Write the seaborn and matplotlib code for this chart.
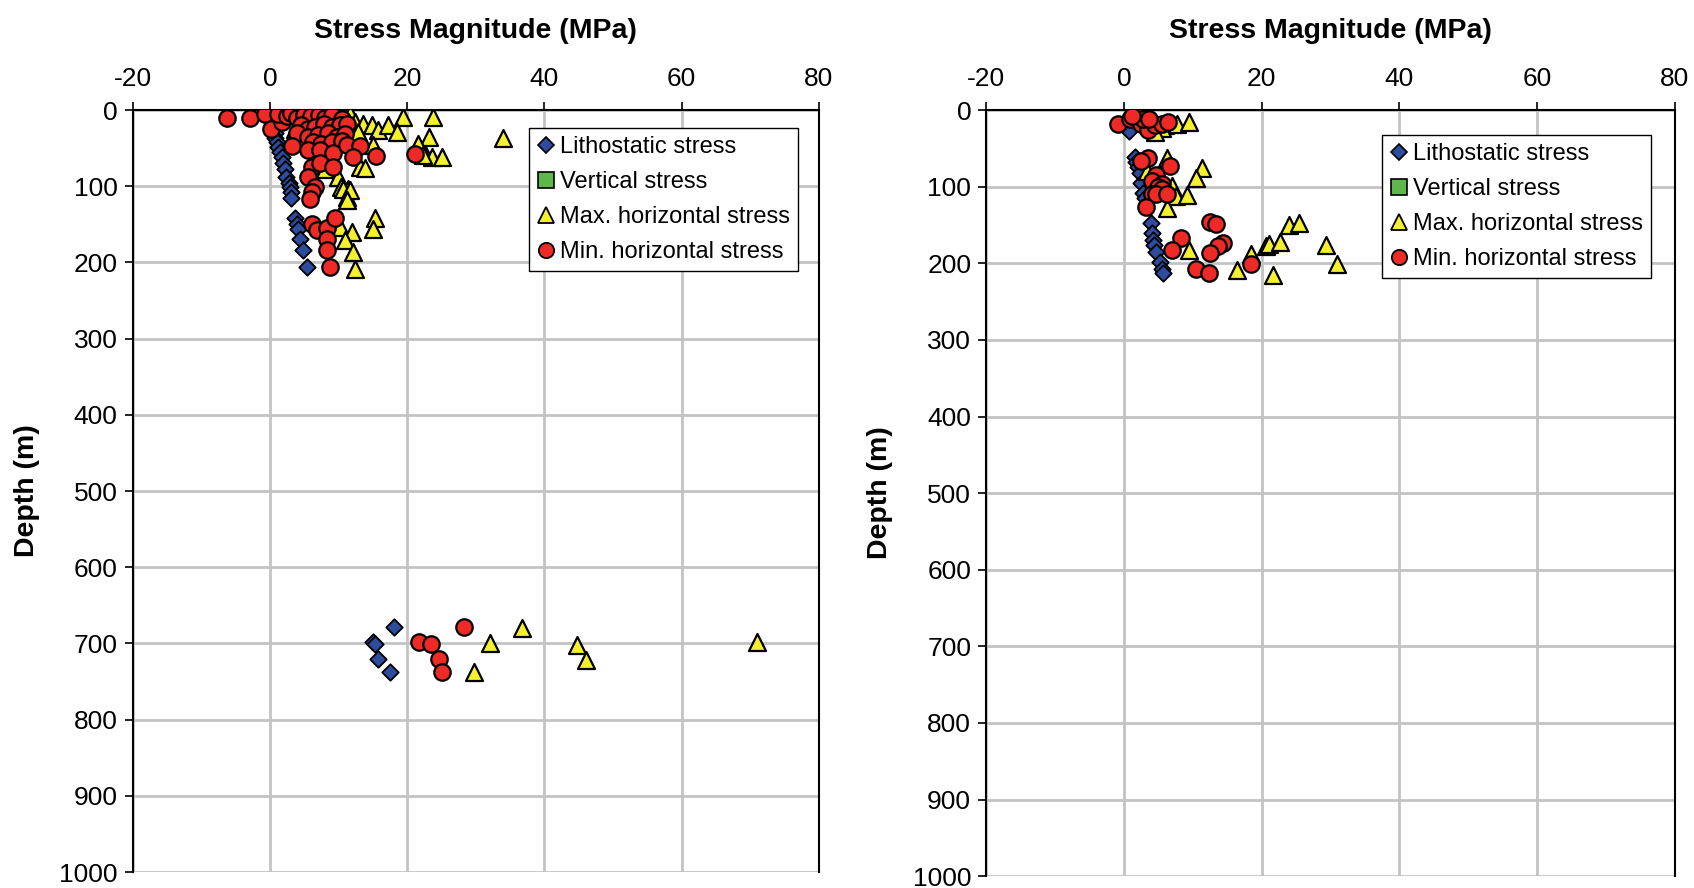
import matplotlib
matplotlib.use("Agg")
import matplotlib.pyplot as plt
from matplotlib.lines import Line2D
import seaborn as sns

sns.set_theme(style="white")
plt.rcParams['font.family'] = ['Liberation Sans', 'DejaVu Sans']
plt.rcParams['axes.unicode_minus'] = False
plt.rcParams['text.color'] = 'black'
plt.rcParams['axes.labelcolor'] = 'black'
plt.rcParams['xtick.color'] = 'black'
plt.rcParams['ytick.color'] = 'black'

# ---- Borehole A (left panel): (stress MPa, depth m) ----
a_litho_x = [0.3, 0.5, 0.7, 0.7, 1.0, 1.2, 1.4, 1.7, 1.9, 2.2, 2.4, 2.7, 2.9, 3.0, 3.1,
             3.6, 3.9, 4.1, 4.4, 4.75, 5.4, 15.0, 15.3, 15.8, 17.5, 18.0]
a_litho_y = [12, 20, 30, 37, 42, 48, 55, 61, 70, 77, 88, 96, 101, 107, 116,
             142, 149, 156, 169, 183, 206, 698, 701, 721, 737, 679]

a_shmax_x = [3.6, 4.1, 5.0, 6.5, 8.5, 10.0, 11.6, 19.4, 23.8, 12.4, 13.6, 14.8, 15.8, 17.2,
             18.5, 12.8, 23.1, 21.6, 22.6, 23.6, 25.0, 15.0, 33.9, 8.0, 9.9, 10.4, 11.4,
             11.2, 13.1, 13.8, 21.6, 22.3, 10.7, 11.6, 11.2, 15.3, 15.0, 10.2, 11.9, 10.9,
             12.1, 12.4, 36.8, 32.0, 44.8, 46.0, 29.8, 71.0]
a_shmax_y = [25, 28, 16, 10, 12, 8, 5, 9, 9, 15, 18, 20, 26, 20,
             29, 29, 35, 46, 57, 61, 61, 46, 37, 77, 88, 101, 103,
             114, 75, 76, 44, 59, 103, 105, 118, 142, 156, 153, 160, 171,
             186, 208, 680, 700, 702, 722, 738, 698]

a_shmin_x = [-6.2, -2.9, -0.8, 0.1, 1.7, 1.2, 2.5, 3.0, 4.0, 5.0, 6.0, 7.2, 8.0, 9.0, 10.5,
             4.5, 5.5, 6.5, 7.8, 9.0, 10.2, 11.2, 4.0, 5.5, 7.0, 8.5, 9.8, 11.0, 6.2, 7.5,
             9.0, 10.5, 3.2, 5.6, 7.3, 9.2, 11.2, 13.1, 12.1, 15.4, 21.1, 6.1, 7.3, 9.2,
             5.6, 6.5, 6.1, 5.8, 6.1, 6.8, 8.3, 9.5, 8.3, 8.3, 8.8,
             21.7, 23.4, 24.6, 25.0, 28.3]
a_shmin_y = [11, 11, 5, 25, 15, 5, 8, 4, 10, 6, 8, 6, 10, 7, 12,
             20, 25, 22, 18, 22, 20, 18, 30, 35, 33, 30, 35, 32, 42, 45,
             42, 40, 47, 53, 53, 56, 46, 47, 61, 60, 58, 75, 70, 75,
             88, 101, 107, 117, 150, 158, 155, 142, 169, 183, 206,
             698, 701, 721, 737, 679]

# ---- Borehole B (right panel) ----
b_litho_x = [0.74, 1.5, 2.5, 1.6, 1.8, 2.05, 2.3, 2.5, 2.8, 3.0, 3.85, 4.0, 4.2, 4.4, 4.7,
             5.2, 5.45, 5.7]
b_litho_y = [27, 12, 15, 61, 68, 74, 82, 95, 108, 115, 147, 160, 169, 176, 185,
             198, 207, 212]

b_shmax_x = [3.0, 6.0, 7.7, 9.5, 5.5, 4.5, 6.2, 11.4, 10.4, 3.3, 6.9, 7.5, 9.2, 6.3,
             9.5, 24.0, 25.4, 18.5, 20.6, 21.1, 22.7, 29.3, 30.9, 16.4, 21.7]
b_shmax_y = [12, 20, 18, 16, 24, 28, 63, 75, 89, 80, 99, 112, 111, 128,
             182, 150, 147, 188, 178, 175, 172, 176, 201, 209, 215]

b_shmin_x = [-0.86, 0.84, 1.8, 2.5, 3.5, 4.5, 5.45, 6.4, 2.8, 3.7, 1.2, 3.5, 2.5, 6.66,
             4.7, 4.0, 5.45, 5.0, 5.5, 4.0, 4.7, 6.2, 3.2, 12.5, 13.4, 8.3, 7.0, 14.4,
             13.7, 12.5, 18.4, 10.5, 12.4]
b_shmin_y = [18, 11, 6, 18, 26, 20, 18, 16, 12, 12, 8, 63, 67, 73,
             85, 93, 96, 100, 103, 109, 110, 110, 127, 146, 149, 167, 183, 173,
             178, 187, 201, 208, 212]

series_names = ["Lithostatic stress", "Vertical stress",
                "Max. horizontal stress", "Min. horizontal stress"]
x_ticks = [-20, 0, 20, 40, 60, 80]
y_ticks = [0, 100, 200, 300, 400, 500, 600, 700, 800, 900, 1000]

C_BLUE = "#2E4C9E"
C_GREEN = "#5DB849"
C_YELLOW = "#F4F02E"
C_RED = "#EE2A27"
C_GRID = "#C3C3C3"

fig = plt.figure(figsize=(16.94, 8.88), dpi=100)
ax_l = fig.add_axes([0.0784, 0.018, 0.405, 0.858])
ax_r = fig.add_axes([0.5823, 0.0134, 0.4062, 0.8626])

panels = [
    (ax_l, a_litho_x, a_litho_y, a_shmax_x, a_shmax_y, a_shmin_x, a_shmin_y, (0.578, 0.977)),
    (ax_r, b_litho_x, b_litho_y, b_shmax_x, b_shmax_y, b_shmin_x, b_shmin_y, (0.575, 0.968)),
]

for ax, lx, ly, hx, hy, nx, ny, leg_anchor in panels:
    sns.scatterplot(x=lx, y=ly, ax=ax, marker="D", s=70, color=C_BLUE,
                    edgecolor="black", linewidth=1.3, zorder=3)
    sns.scatterplot(x=hx, y=hy, ax=ax, marker="^", s=150, color=C_YELLOW,
                    edgecolor="black", linewidth=1.6, zorder=4)
    sns.scatterplot(x=nx, y=ny, ax=ax, marker="o", s=140, color=C_RED,
                    edgecolor="black", linewidth=1.6, zorder=5)

    ax.set_xlim(-20, 80)
    ax.set_ylim(1000, 0)
    ax.set_xticks(x_ticks)
    ax.set_yticks(y_ticks)
    ax.xaxis.tick_top()
    ax.xaxis.set_label_position("top")
    ax.tick_params(axis="x", top=True, bottom=False, direction="out", length=6,
                   width=1.2, color="black", labelsize=19, pad=8)
    ax.tick_params(axis="y", left=True, direction="out", length=6, width=1.2,
                   color="black", labelsize=19, pad=5)
    ax.set_xlabel("Stress Magnitude (MPa)", fontsize=20.5, fontweight="bold", labelpad=21)
    ax.set_ylabel("Depth (m)", fontsize=20.5, fontweight="bold", labelpad=14)
    ax.grid(True, color=C_GRID, linewidth=2.0)
    ax.set_axisbelow(True)
    for side in ("left", "top", "right"):
        ax.spines[side].set_color("black")
        ax.spines[side].set_linewidth(1.5)
        ax.spines[side].set_visible(True)
    ax.spines["bottom"].set_visible(False)

    handles = [
        Line2D([], [], marker="D", linestyle="none", markersize=8, markerfacecolor=C_BLUE,
               markeredgecolor="black", markeredgewidth=1.2),
        Line2D([], [], marker="s", linestyle="none", markersize=11, markerfacecolor=C_GREEN,
               markeredgecolor="black", markeredgewidth=1.2),
        Line2D([], [], marker="^", linestyle="none", markersize=11, markerfacecolor=C_YELLOW,
               markeredgecolor="black", markeredgewidth=1.3),
        Line2D([], [], marker="o", linestyle="none", markersize=11, markerfacecolor=C_RED,
               markeredgecolor="black", markeredgewidth=1.3),
    ]
    leg = ax.legend(handles, series_names, loc="upper left", bbox_to_anchor=leg_anchor,
                    fontsize=17, frameon=True, fancybox=False, framealpha=1,
                    edgecolor="black", handlelength=0.7, handletextpad=0.25,
                    labelspacing=0.55, borderpad=0.35, borderaxespad=0)
    leg.get_frame().set_linewidth(1.0)

fig.savefig("out.png", dpi=100)
